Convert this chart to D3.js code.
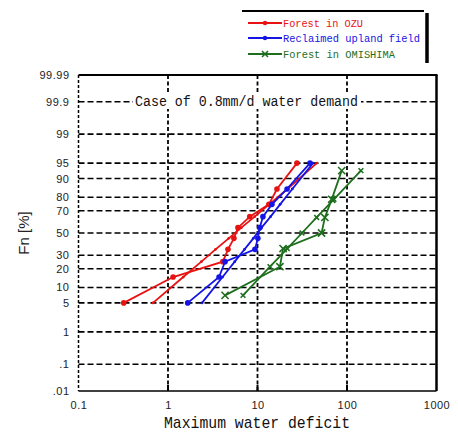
<!DOCTYPE html>
<html><head><meta charset="utf-8">
<script src="https://cdn.jsdelivr.net/npm/d3@7"></script>
<style>body{margin:0;background:#fff}</style>
</head><body><svg id="c" width="458" height="436"></svg>
<script>
// ---- data ----
const probTicks = [99.99, 99.9, 99, 95, 90, 80, 70, 50, 30, 20, 10, 5, 1, 0.1, 0.01];
const probTickLabels = ["99.99", "99.9", "99", "95", "90", "80", "70", "50", "30", "20", "10", "5", "1", ".1", ".01"];
const xTicks = [0.1, 1, 10, 100, 1000];
const xTickLabels = ["0.1", "1", "10", "100", "1000"];
const probs10 = [5, 15, 25, 35, 45, 55, 65, 75, 85, 95];
const probs7 = [7.1, 21.4, 35.7, 50, 64.3, 78.6, 92.9];
const ozuObs = [0.32, 1.14, 4.1, 4.68, 5.45, 6.05, 8.2, 13.4, 16.5, 27.6];
const ozuFit = [0.68, 1.48, 2.36, 3.4, 4.77, 6.6, 9.3, 13.5, 21.6, 46];
const upObs = [1.66, 3.72, 4.34, 9.37, 10.1, 10.6, 11.5, 14.5, 21.4, 38.6];
const upFit = [2.40, 4.07, 5.57, 7.16, 8.98, 11.1, 14.0, 17.9, 24.5, 41.7];
const omiObs = [4.34, 17.8, 19.3, 52, 56.6, 67.5, 87.3];
const omiFit = [6.89, 13.8, 21.5, 31.4, 45.8, 71.4, 143];
const seriesNames = ["Forest in OZU", "Reclaimed upland field", "Forest in OMISHIMA"];
const seriesColors = ["#e81212", "#1414e6", "#1e6e1e"];
const seriesMarkers = ["dot", "dot", "x"];

// ---- probability scale helper (inverse normal CDF, Acklam) ----
function probit(p) {
  const a = [-3.969683028665376e+01, 2.209460984245205e+02, -2.759285104469687e+02, 1.383577518672690e+02, -3.066479806614716e+01, 2.506628277459239e+00];
  const b = [-5.447609879822406e+01, 1.615858368580409e+02, -1.556989798598866e+02, 6.680131188771972e+01, -1.328068155288572e+01];
  const c = [-7.784894002430293e-03, -3.223964580411365e-01, -2.400758277161838e+00, -2.549732539343734e+00, 4.374664141464968e+00, 2.938163982698783e+00];
  const d = [7.784695709041462e-03, 3.224671290700398e-01, 2.445134137142996e+00, 3.754408661907416e+00];
  const pl = 0.02425, ph = 1 - pl;
  let q, r;
  if (p < pl) { q = Math.sqrt(-2 * Math.log(p)); return (((((c[0]*q+c[1])*q+c[2])*q+c[3])*q+c[4])*q+c[5]) / ((((d[0]*q+d[1])*q+d[2])*q+d[3])*q+1); }
  if (p <= ph) { q = p - 0.5; r = q*q; return (((((a[0]*r+a[1])*r+a[2])*r+a[3])*r+a[4])*r+a[5])*q / (((((b[0]*r+b[1])*r+b[2])*r+b[3])*r+b[4])*r+1); }
  q = Math.sqrt(-2 * Math.log(1 - p)); return -(((((c[0]*q+c[1])*q+c[2])*q+c[3])*q+c[4])*q+c[5]) / ((((d[0]*q+d[1])*q+d[2])*q+d[3])*q+1);
}

const svg = d3.select("#c");
const X0 = 78.5, X1 = 436.5, Y0 = 75, Y1 = 391;
const x = d3.scaleLog().domain([0.1, 1000]).range([X0, X1]);
const zMax = probit(0.9999);
const yz = d3.scaleLinear().domain([-zMax, zMax]).range([Y1, Y0]);
const y = p => yz(probit(p / 100));

// grid
const g = svg.append("g");
probTicks.slice(1, -1).forEach(p => {
  g.append("line").attr("x1", X0).attr("x2", X1).attr("y1", y(p)).attr("y2", y(p))
    .attr("stroke", "#000").attr("stroke-width", 1.6).attr("stroke-dasharray", "6,3");
});
xTicks.slice(1, -1).forEach(v => {
  g.append("line").attr("x1", x(v)).attr("x2", x(v)).attr("y1", Y0).attr("y2", Y1)
    .attr("stroke", "#000").attr("stroke-width", 1.8).attr("stroke-dasharray", "4,2.5");
  g.append("line").attr("x1", x(v)).attr("x2", x(v)).attr("y1", Y1).attr("y2", Y1 - 6)
    .attr("stroke", "#000").attr("stroke-width", 2);
});
// frame
g.append("line").attr("x1", X0).attr("x2", X1 + 1).attr("y1", Y0).attr("y2", Y0).attr("stroke", "#000").attr("stroke-width", 2);
g.append("line").attr("x1", X1).attr("x2", X1).attr("y1", Y0).attr("y2", Y1).attr("stroke", "#000").attr("stroke-width", 2.5);
g.append("line").attr("x1", X0).attr("x2", X0).attr("y1", Y0).attr("y2", Y1).attr("stroke", "#000").attr("stroke-width", 1.5).attr("stroke-dasharray", "3,2");
g.append("line").attr("x1", X0).attr("x2", X1).attr("y1", Y1).attr("y2", Y1).attr("stroke", "#000").attr("stroke-width", 1.6);

// axes
const yAxis = d3.axisLeft(yz).tickValues(probTicks.map(p => probit(p / 100)))
  .tickFormat((d, i) => probTickLabels[i]).tickSize(0).tickPadding(9);
const ya = svg.append("g").attr("transform", `translate(${X0},0)`).call(yAxis);
const xAxis = d3.axisBottom(x).tickValues(xTicks).tickFormat((d, i) => xTickLabels[i]).tickSize(0).tickPadding(10);
const xa = svg.append("g").attr("transform", `translate(0,${Y1})`).call(xAxis);
[ya, xa].forEach(a => {
  a.select(".domain").remove();
  a.selectAll("text").attr("font-family", "Liberation Sans, Arial, sans-serif").attr("font-size", 11)
    .attr("letter-spacing", "0.5px").attr("fill", "#222");
});

// annotation
svg.append("rect").attr("x", 133).attr("y", 94).attr("width", 228).attr("height", 15).attr("fill", "#fff");
svg.append("text").attr("x", 135).attr("y", 106).attr("font-family", "Liberation Mono, monospace").attr("font-size", 14)
  .attr("textLength", 223).attr("lengthAdjust", "spacingAndGlyphs").attr("fill", "#111").text("Case of 0.8mm/d water demand");

// series
const line = d3.line().x(d => x(d[0])).y(d => y(d[1]));
function drawMarker(sel, type, cx, cy, size, color) {
  if (type === "dot") {
    sel.append("circle").attr("cx", cx).attr("cy", cy).attr("r", size).attr("fill", color);
  } else {
    const s = size + 0.8;
    sel.append("path").attr("d", `M${cx - s},${cy - s}L${cx + s},${cy + s}M${cx - s},${cy + s}L${cx + s},${cy - s}`)
      .attr("stroke", color).attr("stroke-width", 1.6).attr("fill", "none");
  }
}
const series = [
  [ozuFit, probs10, 0, 1.4], [ozuObs, probs10, 0, 2.8],
  [upFit, probs10, 1, 1.4], [upObs, probs10, 1, 2.8],
  [omiFit, probs7, 2, 1.6], [omiObs, probs7, 2, 2.8]
];
const sg = svg.append("g");
series.forEach(([vals, probs, k, ms]) => {
  const pts = vals.map((v, i) => [v, probs[i]]);
  sg.append("path").attr("d", line(pts)).attr("fill", "none").attr("stroke", seriesColors[k]).attr("stroke-width", 1.8);
  pts.forEach(p => drawMarker(sg, seriesMarkers[k], x(p[0]), y(p[1]), ms, seriesColors[k]));
});

// legend
const lg = svg.append("g");
lg.append("line").attr("x1", 242).attr("x2", 424).attr("y1", 11).attr("y2", 11).attr("stroke", "#000").attr("stroke-width", 2.2);
lg.append("line").attr("x1", 427).attr("x2", 427).attr("y1", 13).attr("y2", 63).attr("stroke", "#000").attr("stroke-width", 3.5);
const legY = [23, 38, 54];
const legW = [80, 137, 112];
seriesNames.forEach((n, k) => {
  lg.append("line").attr("x1", 248).attr("x2", 282).attr("y1", legY[k]).attr("y2", legY[k])
    .attr("stroke", seriesColors[k]).attr("stroke-width", 1.8);
  drawMarker(lg, seriesMarkers[k], 265, legY[k], 2.2, seriesColors[k]);
  lg.append("text").attr("x", 283).attr("y", legY[k] + 4).attr("font-family", "Liberation Mono, monospace")
    .attr("font-size", 11).attr("textLength", legW[k]).attr("lengthAdjust", "spacingAndGlyphs")
    .attr("fill", seriesColors[k]).text(n);
});

// axis titles
svg.append("text").attr("x", 164).attr("y", 428).attr("font-family", "Liberation Mono, monospace").attr("font-size", 17)
  .attr("textLength", 186).attr("lengthAdjust", "spacingAndGlyphs").attr("fill", "#111").text("Maximum water deficit");
svg.append("text").attr("transform", "translate(29,233) rotate(-90)").attr("text-anchor", "middle")
  .attr("font-family", "Liberation Sans, Arial, sans-serif").attr("font-size", 15).attr("fill", "#222").text("Fn [%]");
</script></body></html>
